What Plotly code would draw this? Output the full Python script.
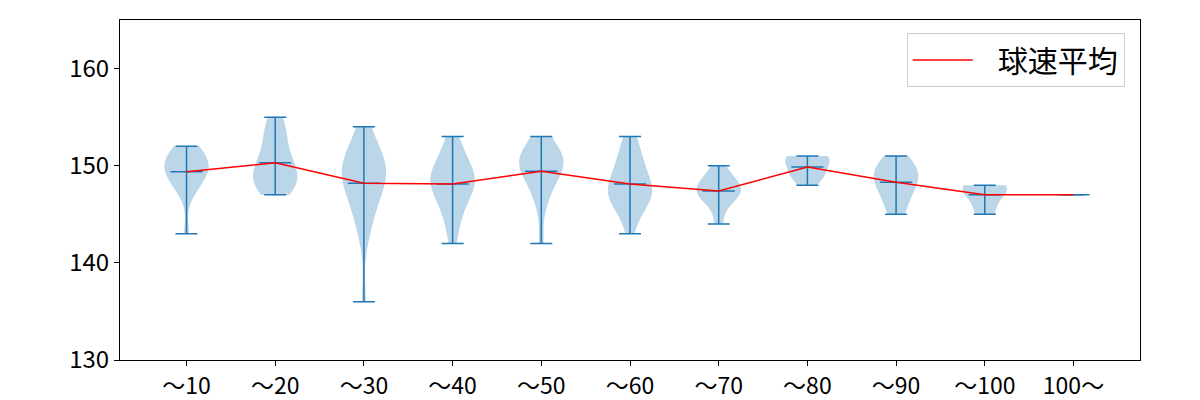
import numpy as np
import plotly.graph_objects as go

categories = ["～10", "～20", "～30", "～40", "～50", "～60", "～70", "～80", "～90", "～100", "100～"]

speeds_10 = [143, 147, 148, 148, 149, 149, 149, 150, 150, 150, 150, 151, 151, 151, 152, 152]
speeds_20 = [147, 148, 148, 148, 149, 149, 150, 150, 151, 152, 153, 154, 155]
speeds_30 = [136, 143, 144, 145, 146, 147, 147, 148, 148, 149, 149, 149, 150, 150, 150, 150, 151, 151, 152, 153, 154]
speeds_40 = [142, 144, 145, 146, 147, 147, 148, 148, 148, 149, 149, 149, 150, 150, 151, 152, 153]
speeds_50 = [142, 146, 147, 148, 149, 149, 150, 150, 150, 150, 151, 151, 151, 152, 152, 153]
speeds_60 = [143, 145, 146, 146, 147, 147, 147, 148, 148, 148, 149, 150, 150, 151, 152, 153]
speeds_70 = [144, 146, 147, 147, 147, 148, 148, 148, 149, 150]
speeds_80 = [148, 149, 149, 150, 150, 151, 151, 151]
speeds_90 = [145, 146, 147, 148, 148, 149, 149, 150, 150, 151]
speeds_100 = [145, 147, 148, 148]
speeds_100p = [147]

groups = [speeds_10, speeds_20, speeds_30, speeds_40, speeds_50, speeds_60,
          speeds_70, speeds_80, speeds_90, speeds_100, speeds_100p]

positions = list(range(1, len(categories) + 1))
blue = "#1f77b4"
FONT = "Noto Sans CJK JP"

fig = go.Figure()

for pos, data in zip(positions, groups):
    arr = np.asarray(data, dtype=float)
    if len(arr) > 1:
        bw = arr.std(ddof=1) * len(arr) ** (-0.2)
        fig.add_trace(go.Violin(
            x=[pos] * len(arr), y=arr, width=0.5, scalemode="width",
            spanmode="hard", bandwidth=bw, points=False,
            box_visible=False, meanline_visible=False,
            fillcolor="rgba(31,119,180,0.3)", line=dict(width=0, color="rgba(0,0,0,0)"),
            showlegend=False, hoverinfo="skip", orientation="v",
        ))

mins = [min(g) for g in groups]
maxs = [max(g) for g in groups]
means = [float(np.mean(g)) for g in groups]

# vertical extent line with caps at min and max
fig.add_trace(go.Scatter(
    x=positions, y=mins, mode="markers",
    marker=dict(size=1, color="rgba(0,0,0,0)"),
    error_y=dict(type="data", symmetric=False,
                 array=[mx - mn for mx, mn in zip(maxs, mins)],
                 arrayminus=[0] * len(mins),
                 color=blue, thickness=1.5, width=11),
    showlegend=False, hoverinfo="skip",
))
# mean ticks
fig.add_trace(go.Scatter(
    x=positions, y=means, mode="markers",
    marker=dict(symbol="line-ew", size=23, line=dict(width=1.5, color=blue)),
    showlegend=False, hoverinfo="skip",
))
# mean line
fig.add_trace(go.Scatter(
    x=positions, y=means, mode="lines", name="\u00a0\u00a0\u00a0球速平均",
    line=dict(color="red", width=1.5),
))

fig.update_layout(
    width=1200, height=400,
    margin=dict(l=120, r=60, t=20, b=40),
    plot_bgcolor="white", paper_bgcolor="white",
    font=dict(family=FONT, size=24, color="black"),
    showlegend=True,
    violinmode="overlay",
    legend=dict(x=0.985, y=0.962, xanchor="right", yanchor="top",
                bordercolor="#cccccc", borderwidth=1, bgcolor="white",
                itemwidth=60,
                font=dict(size=30, family=FONT)),
)
fig.update_xaxes(
    range=[0.25, 11.75], tickmode="array", tickvals=positions, ticktext=categories,
    tickfont=dict(size=23),
    showline=True, linecolor="black", linewidth=1, mirror=True, automargin=False,
    ticks="outside", ticklen=5, tickcolor="black", showgrid=False, zeroline=False,
)
fig.update_yaxes(
    range=[130, 165], tickmode="array", tickvals=[130, 140, 150, 160],
    showline=True, linecolor="black", linewidth=1, mirror=True, automargin=False,
    ticks="outside", ticklen=5, tickcolor="black", showgrid=False, zeroline=False,
)

fig.write_html("out.html")
